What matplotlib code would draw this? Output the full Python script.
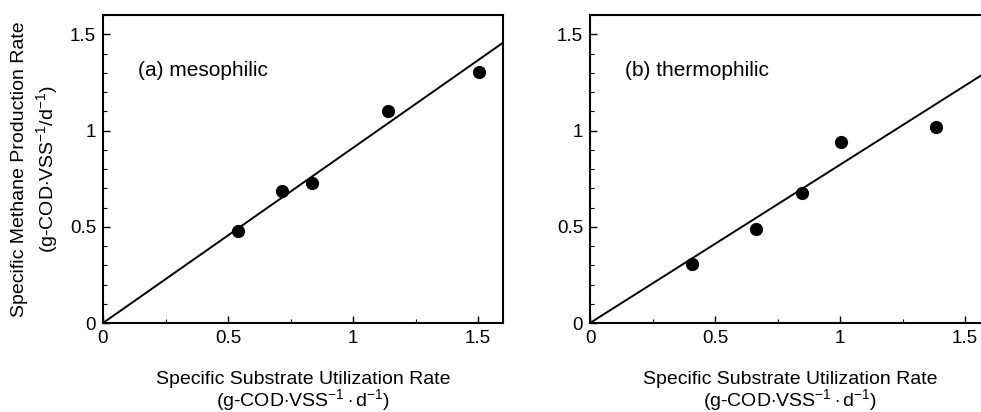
import numpy as np
import matplotlib
matplotlib.use("Agg")
import matplotlib.pyplot as plt
from matplotlib.ticker import MultipleLocator

plt.rcParams['font.family'] = ['Liberation Sans', 'DejaVu Sans']
plt.rcParams['mathtext.fontset'] = 'custom'
plt.rcParams['mathtext.rm'] = 'Liberation Sans'
plt.rcParams['mathtext.it'] = 'Liberation Sans'

# (a) mesophilic
meso_x = [0.54, 0.716, 0.836, 1.14, 1.504]
meso_y = [0.477, 0.684, 0.725, 1.10, 1.306]
meso_slope = 0.91

# (b) thermophilic
thermo_x = [0.407, 0.663, 0.847, 1.003, 1.383]
thermo_y = [0.309, 0.489, 0.675, 0.939, 1.016]
thermo_slope = 0.822

ticks = [0, 0.5, 1, 1.5]
tick_labels = ["0", "0.5", "1", "1.5"]

xlab = "Specific Substrate Utilization Rate\n(g-COD$\\cdot$VSS$^{-1}\\cdot$d$^{-1}$)"
ylab = "Specific Methane Production Rate\n(g-COD$\\cdot$VSS$^{-1}$/d$^{-1}$)"

fig = plt.figure(figsize=(9.81, 4.12), dpi=100)
ax1 = fig.add_axes([103/981, 89/412, 400/981, 308/412])
ax2 = fig.add_axes([590/981, 89/412, 400/981, 308/412])

panels = [(ax1, meso_x, meso_y, meso_slope, "(a) mesophilic"),
          (ax2, thermo_x, thermo_y, thermo_slope, "(b) thermophilic")]

for ax, px, py, slope, name in panels:
    xl = np.array([0, 1.6])
    ax.plot(xl, slope * xl, color="black", lw=1.4)
    ax.plot(px, py, "o", color="black", ms=8.5)
    ax.set_xlim(0, 1.6)
    ax.set_ylim(0, 1.6)
    ax.set_xticks(ticks)
    ax.set_xticklabels(tick_labels)
    ax.set_yticks(ticks)
    ax.set_yticklabels(tick_labels)
    ax.xaxis.set_minor_locator(MultipleLocator(0.25))
    ax.yaxis.set_minor_locator(MultipleLocator(0.1))
    ax.tick_params(direction="in", which="both", labelsize=13.5, pad=5)
    ax.tick_params(which="major", length=5, width=1)
    ax.tick_params(which="minor", length=3, width=0.8)
    for s in ax.spines.values():
        s.set_linewidth(1.5)
    ax.text(0.14, 1.31, name, fontsize=15, va="center", ha="left")
    ax.set_xlabel(xlab, fontsize=14, labelpad=17, linespacing=0.95)

ax1.set_ylabel(ylab, fontsize=14, labelpad=7, linespacing=1.35)

fig.savefig("out.png", dpi=100)
